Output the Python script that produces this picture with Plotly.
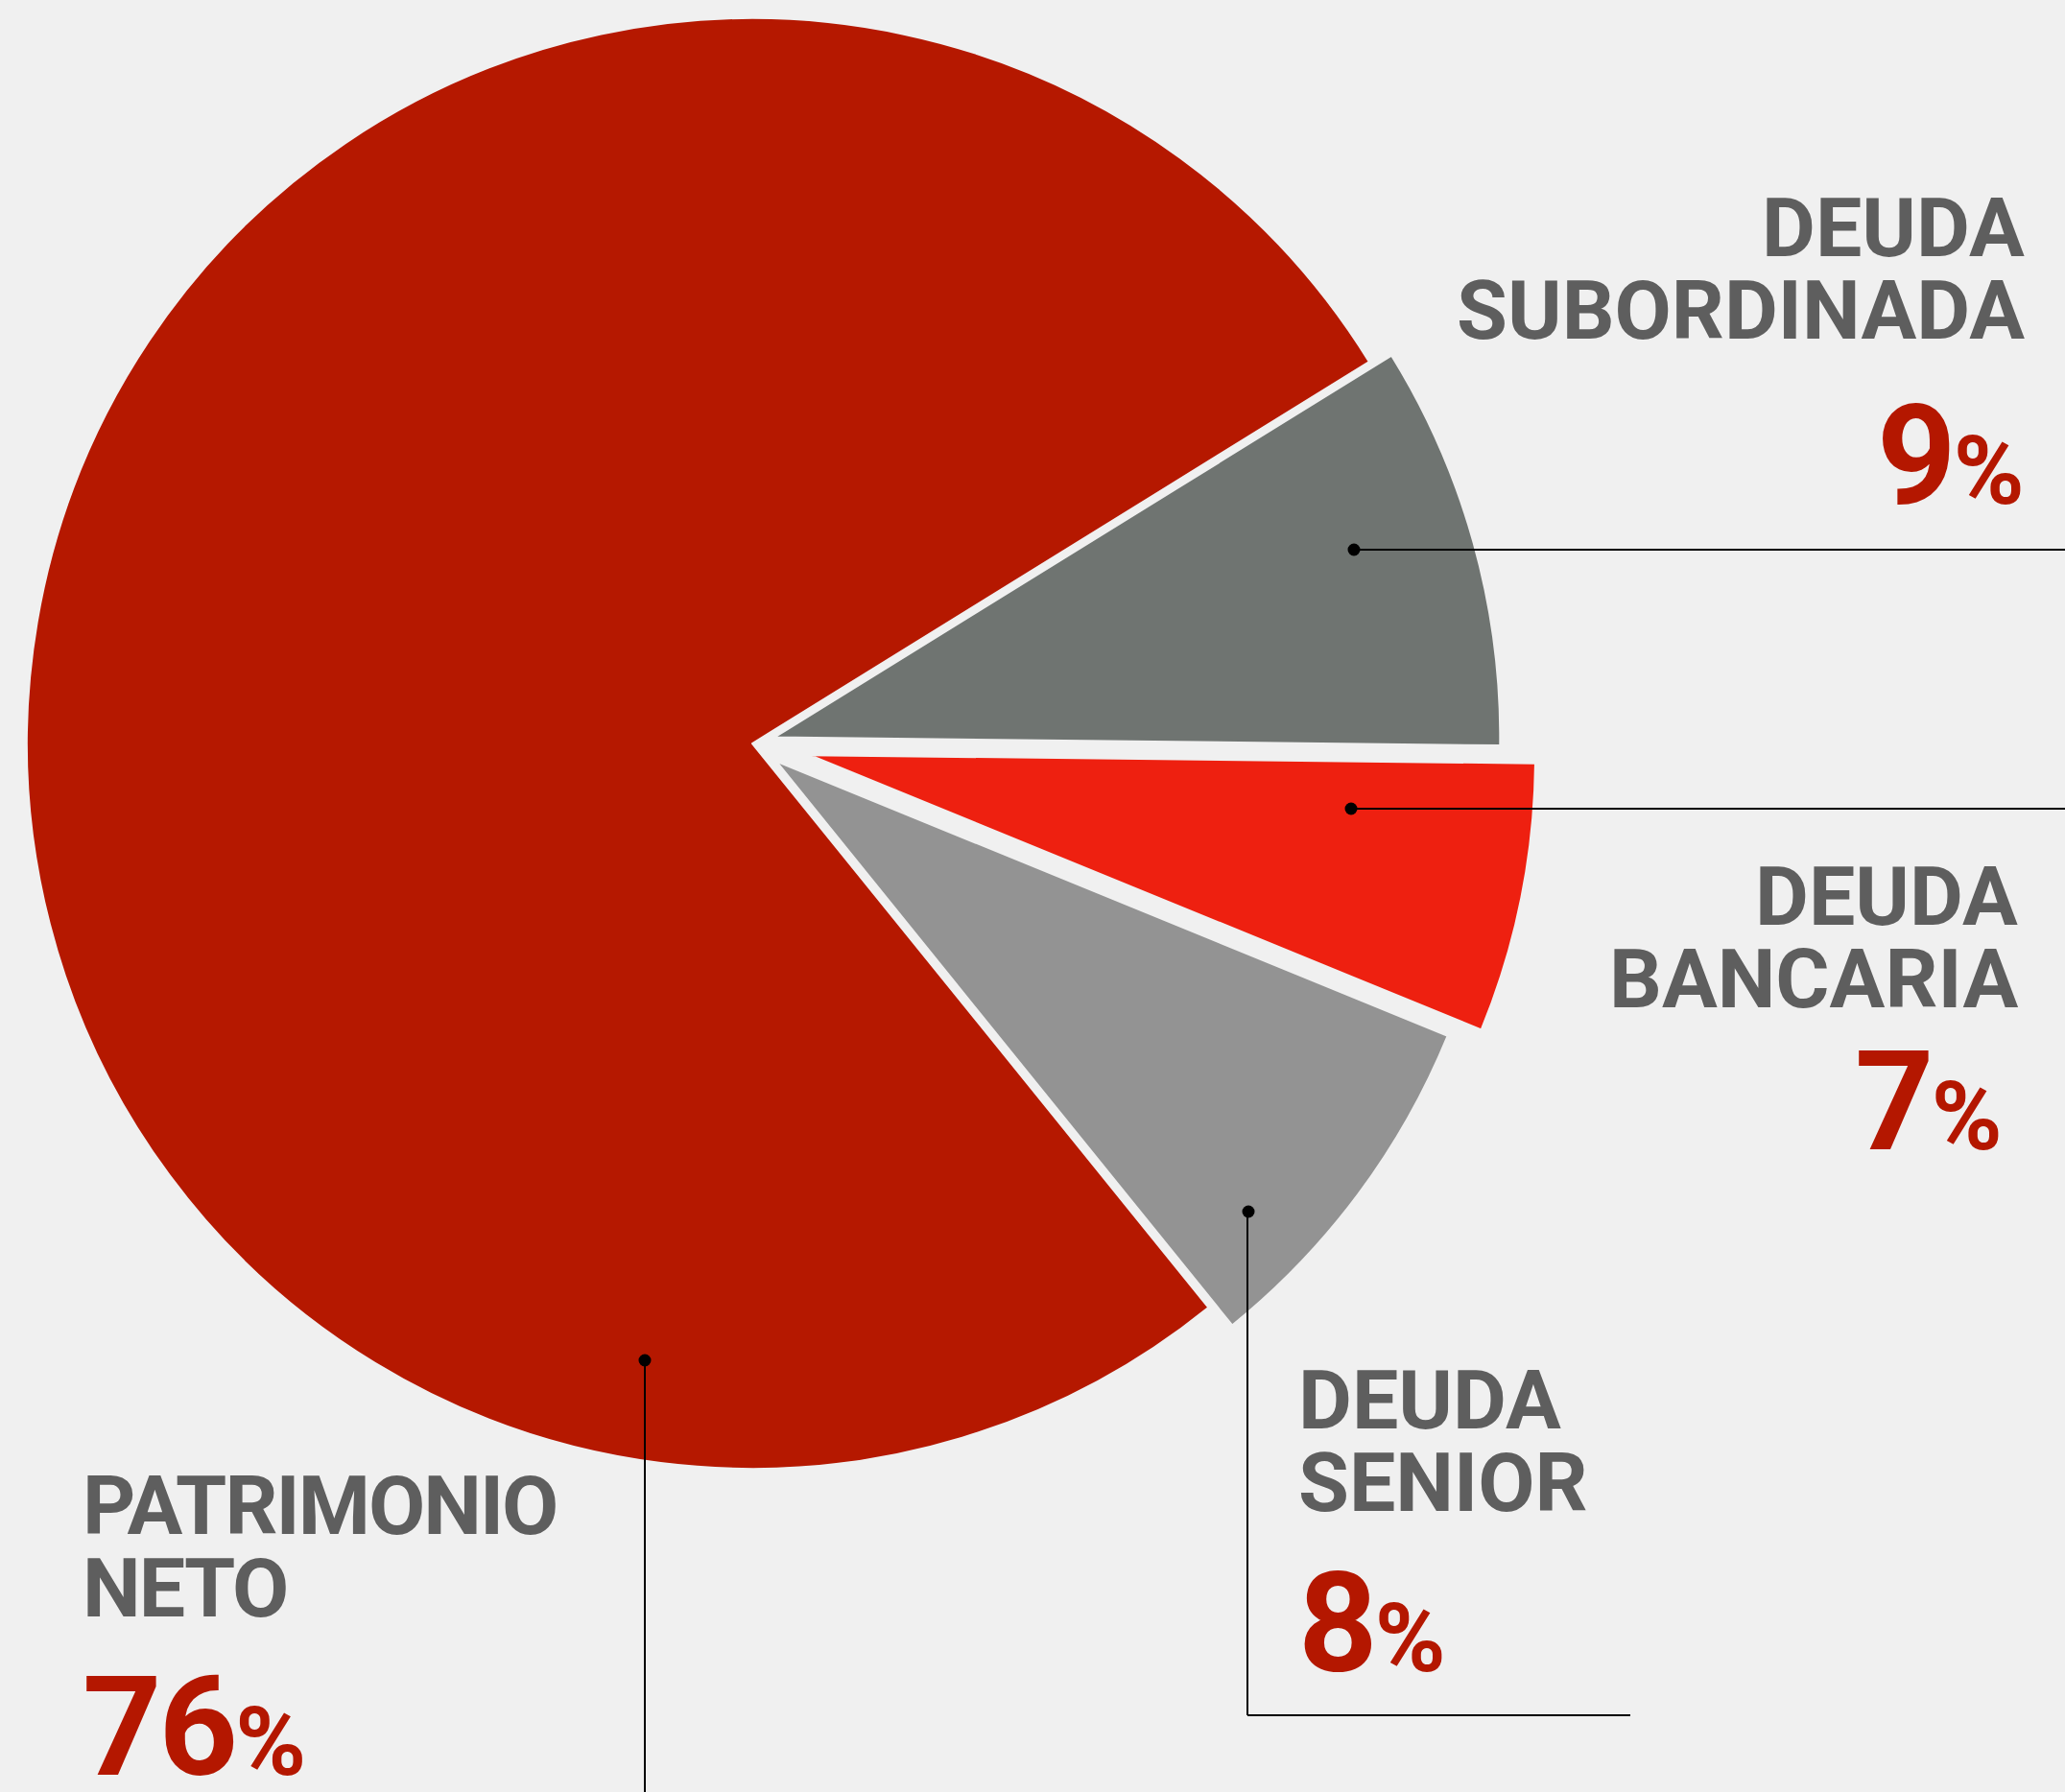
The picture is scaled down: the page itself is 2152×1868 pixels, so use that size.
import math
import plotly.graph_objects as go

# ---------------- data ----------------
categories = ["PATRIMONIO NETO", "DEUDA SUBORDINADA", "DEUDA BANCARIA", "DEUDA SENIOR"]
slice_values = [77, 9, 6, 8]          # share of the circle
label_line1 = ["PATRIMONIO", "DEUDA", "DEUDA", "DEUDA"]
label_line2 = ["NETO", "SUBORDINADA", "BANCARIA", "SENIOR"]
pct_labels = ["76", "9", "7", "8"]

# ---------------- style ----------------
W, H = 2152, 1868
BG = "#f0f0f0"
GRAY_TXT = "#5e5e5e"
RED_TXT = "#b41700"
FONT = "Roboto, 'Noto Sans', Arial, sans-serif"
colors = ["#b51800", "#6f7471", "#ee2010", "#939393"]
pulls = [0, 0.032, 0.081, 0.041]
CX, CY, R = 784, 775, 756
ROT = 141.05

def px(x):
    return x / W

def py(y):
    return 1 - y / H

fig = go.Figure()
total = sum(slice_values)
cum = 0
for i, v in enumerate(slice_values):
    mid = ROT + 360 * (cum + v / 2) / total
    cum += v
    a = math.radians(mid)
    cx = CX + pulls[i] * R * math.sin(a)
    cy = CY - pulls[i] * R * math.cos(a)
    mcolors = [c if j == i else "rgba(0,0,0,0)" for j, c in enumerate(colors)]
    lcolors = [BG if j == i else "rgba(0,0,0,0)" for j in range(len(colors))]
    fig.add_trace(go.Pie(
        labels=categories, values=slice_values, sort=False,
        direction="clockwise", rotation=ROT,
        marker=dict(colors=mcolors, line=dict(color=lcolors, width=2)),
        textinfo="none", hoverinfo="label+percent", showlegend=False,
        domain=dict(x=[px(cx - R), px(cx + R)], y=[py(cy + R), py(cy - R)]),
    ))

# label anchor positions (pixels): x of names, x of pct, anchor, y of line1, line2, pct, letter spacing
label_pos = [
    (84, 84, "left", 1569, 1655, 1800, -2),
    (2112, 2112, "right", 238, 324, 475, 0),
    (2105, 2089, "right", 934, 1020, 1148, 0),
    (1351, 1351, "left", 1459, 1545, 1692, 0),
]

for i in range(4):
    xn, xp, anc, y1, y2, y3, ls = label_pos[i]
    for txt, yy in ((label_line1[i], y1), (label_line2[i], y2)):
        fig.add_annotation(
            x=px(xn), y=py(yy), xref="paper", yref="paper", xanchor=anc, yanchor="middle",
            text=f"<span style='letter-spacing:{ls}px'>{txt}</span>", showarrow=False,
            font=dict(family=FONT, size=86, color=GRAY_TXT, weight=700),
        )
    fig.add_annotation(
        x=px(xp), y=py(y3), xref="paper", yref="paper", xanchor=anc, yanchor="middle",
        text=(f"<span style='letter-spacing:-3px'>{pct_labels[i]}</span>"
              f"<span style='font-size:100px'>%</span>"),
        showarrow=False,
        font=dict(family=FONT, size=144, color=RED_TXT, weight=700),
    )

# leader lines and dots
segments = [
    ((1411, 573), (W, 573)),
    ((1408, 843), (W, 843)),
    ((1300, 1263), (1300, 1788)),
    ((1300, 1788), (1699, 1788)),
    ((672, 1418), (672, H)),
]
for (x0, y0), (x1, y1) in segments:
    fig.add_shape(type="line", xref="paper", yref="paper",
                  x0=px(x0), y0=py(y0), x1=px(x1), y1=py(y1),
                  line=dict(color="black", width=2))
dots = [(1411, 573), (1408, 843), (1301, 1263), (672, 1418)]
for (x, y) in dots:
    rr = 6.5
    fig.add_shape(type="circle", xref="paper", yref="paper",
                  x0=px(x - rr), x1=px(x + rr), y0=py(y + rr), y1=py(y - rr),
                  fillcolor="black", line=dict(width=0))

fig.update_layout(
    width=W, height=H,
    margin=dict(l=0, r=0, t=0, b=0),
    paper_bgcolor=BG, plot_bgcolor=BG,
    showlegend=False,
)

fig.write_html(
    "out.html",
    config={"displayModeBar": False},
    post_script="document.body.style.margin='0';document.body.style.overflow='hidden';",
)
